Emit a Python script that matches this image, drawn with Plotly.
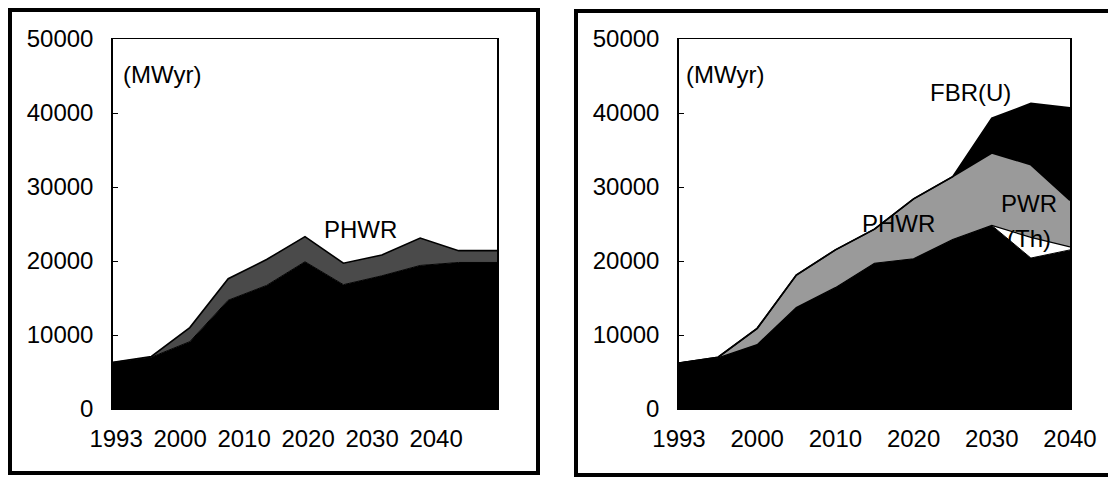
import plotly.graph_objects as go

# ---------------- data ----------------
years = ["1993", "1995", "2000", "2005", "2010", "2015", "2020", "2025", "2030", "2035", "2040"]
tick_labels = ["1993", "2000", "2010", "2020", "2030", "2040"]
y_ticks = [0, 10000, 20000, 30000, 40000, 50000]

# left panel (stacked, MWyr)
left_base = [6300, 7000, 9100, 14700, 16700, 19900, 16800, 18000, 19400, 19800, 19800]
left_phwr = [0, 100, 1900, 2900, 3500, 3400, 2900, 2800, 3700, 1600, 1600]

# right panel (stacked, MWyr)
right_base = [6200, 6900, 8700, 13700, 16400, 19700, 20300, 22900, 24800, 20400, 21500]
right_pwr_th = [0, 0, 0, 0, 0, 0, 0, 0, 0, 2800, 400]
right_phwr = [0, 100, 2200, 4400, 5100, 4600, 8100, 8500, 9800, 9800, 6300]
right_fbr = [0, 0, 0, 0, 0, 0, 0, 0, 4700, 8300, 12500]

W, H = 1108, 477
FONT = "Arial, Liberation Sans, sans-serif"
FS = 24


def px(x):
    return x / W


def py(y):
    return 1 - y / H


fig = go.Figure()


def area(x, y, name, fill, line_color, line_w, xa, ya, group):
    fig.add_trace(go.Scatter(
        x=x, y=y, name=name, mode="lines", stackgroup=group,
        fillcolor=fill, line=dict(color=line_color, width=line_w),
        xaxis=xa, yaxis=ya, showlegend=False, hoverinfo="x+y+name"))


area(years, left_base, "Other", "#000000", "#000000", 1, "x", "y", "L")
area(years, left_phwr, "PHWR", "#4a4a4a", "#000000", 1.6, "x", "y", "L")

area(years, right_base, "Other", "#000000", "#000000", 1, "x2", "y2", "R")
area(years, right_pwr_th, "PWR(Th)", "#ffffff", "#000000", 1.2, "x2", "y2", "R")
area(years, right_phwr, "PHWR", "#9a9a9a", "#000000", 1.6, "x2", "y2", "R")
area(years, right_fbr, "FBR(U)", "#000000", "#000000", 1.6, "x2", "y2", "R")

tickfont = dict(family=FONT, size=FS, color="#000000")

# left panel: the six labels are spread evenly over the first 5/6 of the axis
n_int = len(years) - 1
left_tickvals = [0.08 + k * n_int / 6 for k in range(len(tick_labels))]

data_x = dict(type="category", range=[0, n_int], ticks="",
              tickmode="array", ticktext=tick_labels, tickfont=tickfont,
              ticklabelstandoff=8, automargin=False,
              showline=True, mirror=True, linecolor="#000000", linewidth=1,
              showgrid=False, zeroline=False, fixedrange=True)
data_y = dict(range=[0, 50000], tickvals=y_ticks, tickformat="d", ticks="inside", ticklen=5,
              tickcolor="#000000", showline=True, mirror=True, linecolor="#000000",
              linewidth=1.5, showgrid=False, zeroline=False, tickfont=tickfont,
              ticklabelstandoff=13, automargin=False,
              domain=[py(409), py(39)], fixedrange=True)

fig.update_layout(
    width=W, height=H, margin=dict(l=0, r=0, t=0, b=0, autoexpand=False),
    paper_bgcolor="#ffffff", plot_bgcolor="#ffffff",
    font=dict(family=FONT, size=FS, color="#000000"),
    xaxis=dict(**data_x, tickvals=left_tickvals, domain=[px(113), px(497)], anchor="y"),
    yaxis=dict(**data_y, anchor="x"),
    xaxis2=dict(**data_x, tickvals=tick_labels, domain=[px(679), px(1070)], anchor="y2"),
    yaxis2=dict(**data_y, anchor="x2"),
)

# outer frames
fig.add_shape(type="rect", xref="paper", yref="paper",
              x0=px(10), x1=px(538), y0=py(473), y1=py(10),
              line=dict(color="#000000", width=4), fillcolor="rgba(0,0,0,0)", layer="below")
fig.add_shape(type="rect", xref="paper", yref="paper",
              x0=px(576), x1=px(1120), y0=py(475), y1=py(11),
              line=dict(color="#000000", width=4), fillcolor="rgba(0,0,0,0)", layer="below")


def label(text, x, y, anchor="center"):
    fig.add_annotation(text=text, xref="paper", yref="paper", x=px(x), y=py(y),
                       xanchor=anchor, yanchor="middle", showarrow=False,
                       font=dict(family=FONT, size=FS, color="#000000"))


label("(MWyr)", 121, 74, "left")
label("PHWR", 360, 230)
label("(MWyr)", 684, 74, "left")
label("FBR(U)", 970, 93)
label("PHWR", 898, 224)
label("PWR", 1029, 203)
label("(Th)", 1029, 238)

fig.write_html(
    "out.html",
    config={"displayModeBar": False},
    post_script="document.body.style.margin='0';document.body.style.overflow='hidden';",
)
